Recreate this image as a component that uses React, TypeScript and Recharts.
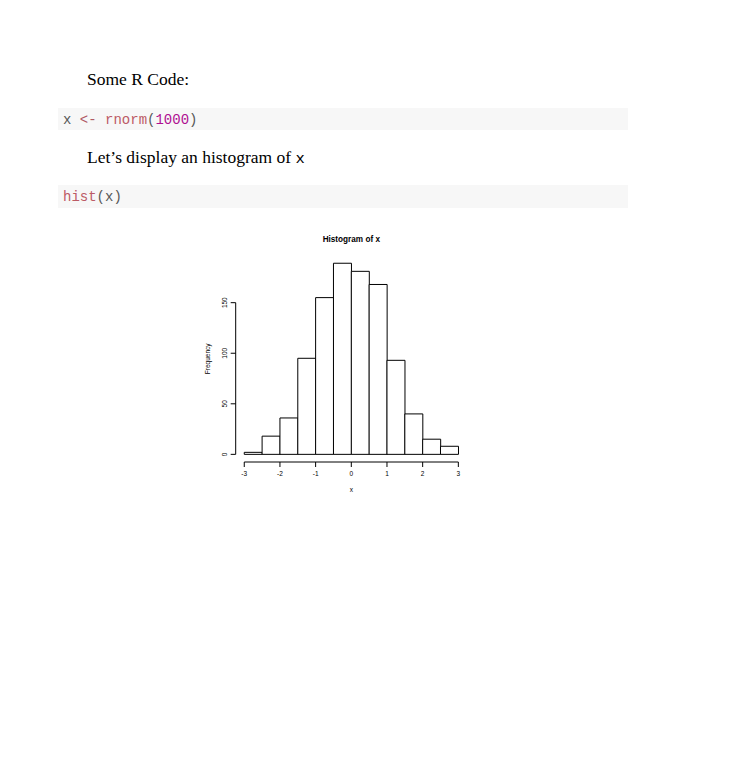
import React from "react";
import { BarChart, Bar, XAxis, YAxis, ReferenceLine } from "recharts";

// hist(rnorm(1000)) — bin edges and counts
const breaks = [-3, -2.5, -2, -1.5, -1, -0.5, 0, 0.5, 1, 1.5, 2, 2.5, 3];
const counts = [2, 18, 36, 95, 155, 189, 181, 168, 93, 40, 15, 8];
const xTicks = [-3, -2, -1, 0, 1, 2, 3];
const yTicks = [0, 50, 100, 150];

const data = counts.map((count, i) => ({
  mid: (breaks[i] + breaks[i + 1]) / 2,
  count,
}));

// R pads the plot region by 4% on each side
const xMin = breaks[0];
const xMax = breaks[breaks.length - 1];
const xPad = (xMax - xMin) * 0.04;
const yMax = Math.max(...counts);
const yPad = yMax * 0.04;
const xDomain = [xMin - xPad, xMax + xPad];
const yDomain = [-yPad, yMax + yPad];

const sans = "'Liberation Sans', Arial, sans-serif";
const serif = "'Liberation Serif', 'Times New Roman', serif";
const mono = "'Liberation Mono', 'Courier New', monospace";

const codeGray = "#585858";
const codeKwb = "#b05a65";
const codeFun = "#bc5a65";
const codeNum = "#af0f91";

const YTick = (props: any) => {
  const { x, y, payload } = props;
  return (
    <text
      x={x}
      y={y}
      transform={`rotate(-90 ${x} ${y})`}
      textAnchor="middle"
      fontSize={6.5}
      fontFamily={sans}
      fill="#000"
    >
      {payload.value}
    </text>
  );
};

function Histogram() {
  return (
    <BarChart
      width={290}
      height={285}
      data={data}
      margin={{ top: 35.6, right: 13.1, bottom: 13, left: 5.7 }}
      barCategoryGap={0}
      barGap={0}
    >
      <XAxis
        dataKey="mid"
        type="number"
        domain={xDomain}
        ticks={xTicks}
        axisLine={false}
        tickLine={{ stroke: "#000", strokeWidth: 1 }}
        tickSize={5}
        tickMargin={4.5}
        height={30}
        tick={{ fontSize: 6.5, fontFamily: sans, fill: "#000" }}
        interval={0}
      />
      <YAxis
        type="number"
        domain={yDomain}
        ticks={yTicks}
        axisLine={false}
        tickLine={{ stroke: "#000", strokeWidth: 1 }}
        tickSize={5}
        tickMargin={4}
        width={40}
        tick={<YTick />}
        interval={0}
      />
      <Bar
        dataKey="count"
        fill="#fff"
        stroke="#000"
        strokeWidth={1}
        isAnimationActive={false}
      />
      <ReferenceLine
        segment={[
          { x: xMin, y: -yPad },
          { x: xMax, y: -yPad },
        ]}
        stroke="#000"
        strokeWidth={1}
        ifOverflow="visible"
      />
      <ReferenceLine
        segment={[
          { x: xMin - xPad, y: yTicks[0] },
          { x: xMin - xPad, y: yTicks[yTicks.length - 1] },
        ]}
        stroke="#000"
        strokeWidth={1}
        ifOverflow="visible"
      />
    </BarChart>
  );
}

export default function App() {
  return (
    <div style={{ position: "relative", width: 715, height: 742 }}>
      <svg
        width={715}
        height={742}
        style={{ position: "absolute", left: 0, top: 0 }}
      >
        <g transform="translate(-8,-8)">
          <text x={87} y={85} fontFamily={serif} fontSize={17.5} fill="#000">
            Some R Code:
          </text>

          <rect x={58} y={108} width={570} height={22} fill="#f7f7f7" />
          <text x={63} y={124} fontFamily={mono} fontSize={14} xmlSpace="preserve">
            <tspan fill={codeGray}>x </tspan>
            <tspan fill={codeKwb}>&lt;-</tspan>
            <tspan fill={codeGray}> </tspan>
            <tspan fill={codeFun}>rnorm</tspan>
            <tspan fill={codeGray}>(</tspan>
            <tspan fill={codeNum}>1000</tspan>
            <tspan fill={codeGray}>)</tspan>
          </text>

          <text x={87} y={163} fontFamily={serif} fontSize={17.5} fill="#000">
            Let’s display an histogram of{" "}
            <tspan fontFamily={mono} fontSize={15.5}>x</tspan>
          </text>

          <rect x={58} y={185} width={570} height={23} fill="#f7f7f7" />
          <text x={63} y={201} fontFamily={mono} fontSize={14}>
            <tspan fill={codeFun}>hist</tspan>
            <tspan fill={codeGray}>(x)</tspan>
          </text>

          <text
            x={351.3}
            y={241.5}
            textAnchor="middle"
            fontFamily={sans}
            fontWeight="bold"
            fontSize={8.2}
            fill="#000"
          >
            Histogram of x
          </text>
          <text
            x={209.8}
            y={358.8}
            transform="rotate(-90 209.8 358.8)"
            textAnchor="middle"
            fontFamily={sans}
            fontSize={6.5}
            fill="#000"
          >
            Frequency
          </text>
          <text
            x={351.3}
            y={491.5}
            textAnchor="middle"
            fontFamily={sans}
            fontSize={6.5}
            fill="#000"
          >
            x
          </text>
        </g>
      </svg>
      <div style={{ position: "absolute", left: 182, top: 212 }}>
        <Histogram />
      </div>
    </div>
  );
}
